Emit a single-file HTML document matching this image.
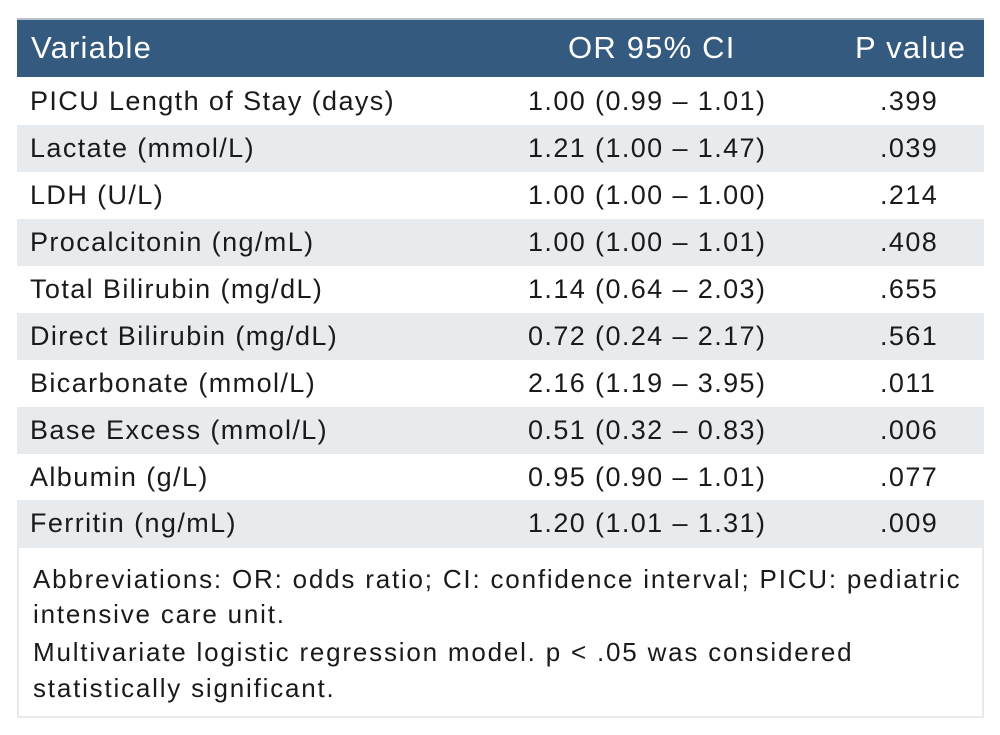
<!DOCTYPE html>
<html><head><style>
body{margin:0;width:1000px;height:735px;background:#fff;font-family:"Liberation Sans",sans-serif;color:#1a1a1a;position:relative;overflow:hidden}
.hdr{position:absolute;left:17px;top:18px;width:967px;height:59px;background:#345a7f;border-top:2px solid #b8c0cc;box-sizing:border-box}
.row{position:absolute;left:17px;width:967px;height:47px}
.g{background:#e8ebee}
.t{position:absolute;font-size:27px;letter-spacing:1.4px;white-space:nowrap;line-height:1}
.h{color:#fff;font-size:31px;letter-spacing:1.2px}
.foot{position:absolute;left:17px;top:546px;width:967px;height:172px;border:2px solid #e8ebee;box-sizing:border-box}
.ft{position:absolute;left:33px;font-size:26px;letter-spacing:1.8px;line-height:1;white-space:nowrap}
</style></head><body>
<div class="hdr"></div>
<div class="t h" style="left:31px;top:32px">Variable</div>
<div class="t h" style="left:568px;top:32px">OR 95% CI</div>
<div class="t h" style="left:855px;top:32px">P value</div>

<div class="row" style="top:78px"></div>
<div class="row g" style="top:125px"></div>
<div class="row" style="top:172px"></div>
<div class="row g" style="top:219px"></div>
<div class="row" style="top:266px"></div>
<div class="row g" style="top:313px"></div>
<div class="row" style="top:360px"></div>
<div class="row g" style="top:407px"></div>
<div class="row" style="top:454px"></div>
<div class="row g" style="top:500px"></div>

<div class="t" style="left:30px;top:88px">PICU Length of Stay (days)</div><div class="t" style="left:528px;top:88px">1.00 (0.99 – 1.01)</div><div class="t" style="left:880px;top:88px">.399</div>
<div class="t" style="left:30px;top:135px">Lactate (mmol/L)</div><div class="t" style="left:528px;top:135px">1.21 (1.00 – 1.47)</div><div class="t" style="left:880px;top:135px">.039</div>
<div class="t" style="left:30px;top:182px">LDH (U/L)</div><div class="t" style="left:528px;top:182px">1.00 (1.00 – 1.00)</div><div class="t" style="left:880px;top:182px">.214</div>
<div class="t" style="left:30px;top:229px">Procalcitonin (ng/mL)</div><div class="t" style="left:528px;top:229px">1.00 (1.00 – 1.01)</div><div class="t" style="left:880px;top:229px">.408</div>
<div class="t" style="left:30px;top:276px">Total Bilirubin (mg/dL)</div><div class="t" style="left:528px;top:276px">1.14 (0.64 – 2.03)</div><div class="t" style="left:880px;top:276px">.655</div>
<div class="t" style="left:30px;top:323px">Direct Bilirubin (mg/dL)</div><div class="t" style="left:528px;top:323px">0.72 (0.24 – 2.17)</div><div class="t" style="left:880px;top:323px">.561</div>
<div class="t" style="left:30px;top:370px">Bicarbonate (mmol/L)</div><div class="t" style="left:528px;top:370px">2.16 (1.19 – 3.95)</div><div class="t" style="left:880px;top:370px">.011</div>
<div class="t" style="left:30px;top:417px">Base Excess (mmol/L)</div><div class="t" style="left:528px;top:417px">0.51 (0.32 – 0.83)</div><div class="t" style="left:880px;top:417px">.006</div>
<div class="t" style="left:30px;top:464px">Albumin (g/L)</div><div class="t" style="left:528px;top:464px">0.95 (0.90 – 1.01)</div><div class="t" style="left:880px;top:464px">.077</div>
<div class="t" style="left:30px;top:510px">Ferritin (ng/mL)</div><div class="t" style="left:528px;top:510px">1.20 (1.01 – 1.31)</div><div class="t" style="left:880px;top:510px">.009</div>

<div class="foot"></div>
<div class="ft" style="top:566px">Abbreviations: OR: odds ratio; CI: confidence interval; PICU: pediatric</div>
<div class="ft" style="top:601px">intensive care unit.</div>
<div class="ft" style="top:639px">Multivariate logistic regression model. p &lt; .05 was considered</div>
<div class="ft" style="top:675px">statistically significant.</div>
</body></html>
